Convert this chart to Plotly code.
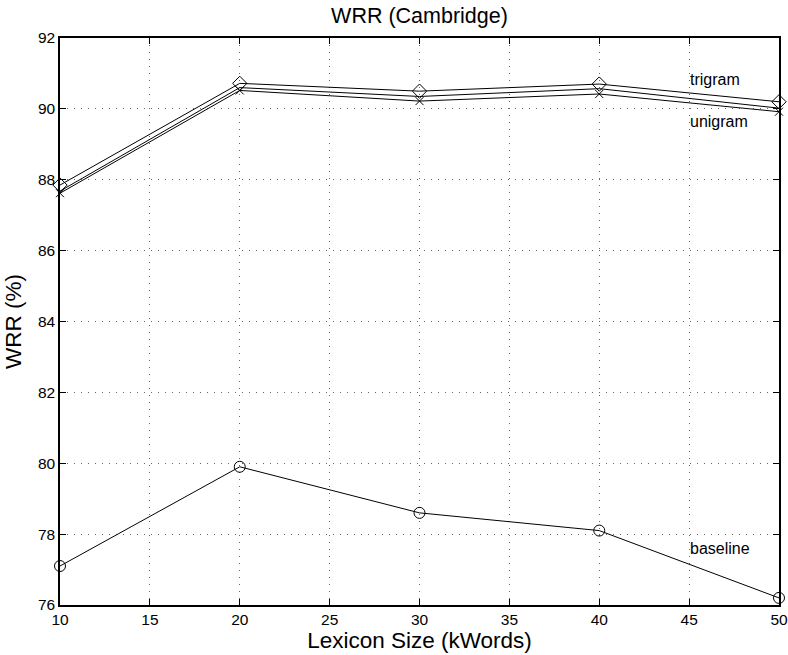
import plotly.graph_objects as go

lexicon = [10, 20, 30, 40, 50]
trigram = [87.85, 90.72, 90.5, 90.7, 90.2]
bigram = [87.68, 90.6, 90.35, 90.57, 90.02]
unigram = [87.62, 90.52, 90.22, 90.42, 89.92]
baseline = [77.1, 79.9, 78.6, 78.1, 76.2]

x_ticks = [10, 15, 20, 25, 30, 35, 40, 45, 50]
y_ticks = [76, 78, 80, 82, 84, 86, 88, 90, 92]

font = "Liberation Sans, Arial, Helvetica, sans-serif"

W, H = 788, 655

fig = go.Figure()
line = dict(color="black", width=1)
fig.add_trace(go.Scatter(x=lexicon, y=trigram, mode="lines+markers", line=line, cliponaxis=False,
                         marker=dict(symbol="diamond-open", size=11, color="black", line=dict(width=1))))
fig.add_trace(go.Scatter(x=lexicon, y=bigram, mode="lines", line=line))
fig.add_trace(go.Scatter(x=lexicon, y=unigram, mode="lines+markers", line=line, cliponaxis=False,
                         marker=dict(symbol="x-thin-open", size=8, color="black", line=dict(width=1, color="black"))))
fig.add_trace(go.Scatter(x=lexicon, y=baseline, mode="lines+markers", line=line, cliponaxis=False,
                         marker=dict(symbol="circle-open", size=11, color="black", line=dict(width=1))))

labels = [("trigram", 45.1, 90.82), ("unigram", 45.1, 89.65), ("baseline", 45.1, 77.6)]
for t, xx, yy in labels:
    fig.add_annotation(x=xx, y=yy, text=t, showarrow=False, xanchor="left", yanchor="middle",
                       xshift=-3, font=dict(family=font, size=16, color="black"))

axis_common = dict(showline=True, linecolor="black", linewidth=1.5, mirror="ticks",
                   ticks="inside", ticklen=6, tickcolor="black", tickwidth=1,
                   showgrid=True, gridcolor="#666", gridwidth=1, griddash="1px,6px",
                   zeroline=False, automargin=False,
                   tickfont=dict(family=font, size=15.5, color="black"))

fig.update_xaxes(range=[10, 50], tickvals=x_ticks, ticktext=[str(v) for v in x_ticks],
                 title=dict(text="Lexicon Size (kWords)", font=dict(family=font, size=22.5, color="black"), standoff=2),
                 **axis_common)
fig.update_yaxes(range=[76, 92], tickvals=y_ticks, ticktext=[str(v) for v in y_ticks],
                 title=dict(text="WRR (%)", font=dict(family=font, size=22.5, color="black"), standoff=10),
                 **axis_common)

fig.update_layout(
    width=W, height=H,
    margin=dict(l=60, r=9, t=38, b=50),
    paper_bgcolor="white", plot_bgcolor="white",
    showlegend=False,
    title=dict(text="WRR (Cambridge)", x=(60 + 779) / 2 / W, xanchor="center", y=1 - 15 / H, yanchor="middle",
               font=dict(family=font, size=21.5, color="black"), automargin=False),
)

fig.write_html("out.html", config={"displayModeBar": False},
               post_script="document.body.style.margin='0';")
